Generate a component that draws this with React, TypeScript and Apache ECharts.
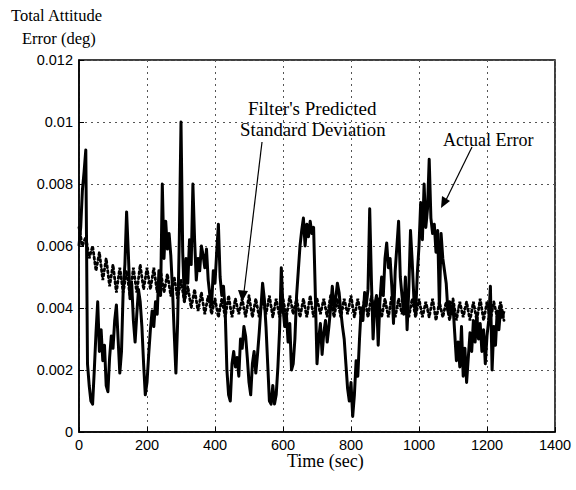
import React, { useEffect, useRef } from "react";
import * as echarts from "echarts";

const errTime: number[] = [
  0, 5, 10, 15, 20, 25, 30, 35, 40, 45, 50, 55, 60, 65, 70, 75, 80, 85, 90, 95,
  100, 105, 110, 115, 120, 125, 130, 135, 140, 145, 150, 155, 160, 165, 170, 175, 180, 185, 190, 195,
  200, 205, 210, 215, 220, 225, 230, 235, 240, 245, 250, 255, 260, 265, 270, 275, 280, 285, 290, 295,
  300, 305, 310, 315, 320, 325, 330, 335, 340, 345, 350, 355, 360, 365, 370, 375, 380, 385, 390, 395,
  400, 405, 410, 415, 420, 425, 430, 435, 440, 445, 450, 455, 460, 465, 470, 475, 480, 485, 490, 495,
  500, 505, 510, 515, 520, 525, 530, 535, 540, 545, 550, 555, 560, 565, 570, 575, 580, 585, 590, 595,
  600, 605, 610, 615, 620, 625, 630, 635, 640, 645, 650, 655, 660, 665, 670, 675, 680, 685, 690, 695,
  700, 705, 710, 715, 720, 725, 730, 735, 740, 745, 750, 755, 760, 765, 770, 775, 780, 785, 790, 795,
  800, 805, 810, 815, 820, 825, 830, 835, 840, 845, 850, 855, 860, 865, 870, 875, 880, 885, 890, 895,
  900, 905, 910, 915, 920, 925, 930, 935, 940, 945, 950, 955, 960, 965, 970, 975, 980, 985, 990, 995,
  1000, 1005, 1010, 1015, 1020, 1025, 1030, 1035, 1040, 1045, 1050, 1055, 1060, 1065, 1070, 1075, 1080, 1085, 1090, 1095,
  1100, 1105, 1110, 1115, 1120, 1125, 1130, 1135, 1140, 1145, 1150, 1155, 1160, 1165, 1170, 1175, 1180, 1185, 1190, 1195,
  1200, 1205, 1210, 1215, 1220, 1225, 1230, 1235, 1240, 1245, 1250,
];

const errValue: number[] = [
  0.0060, 0.0066, 0.0078, 0.0084, 0.0091, 0.0022, 0.0015, 0.0010, 0.0009, 0.0020,
  0.0032, 0.0042, 0.0026, 0.0033, 0.0023, 0.0028, 0.0015, 0.0013, 0.0024, 0.0031,
  0.0027, 0.0036, 0.0041, 0.0030, 0.0019, 0.0026, 0.0046, 0.0054, 0.0071, 0.0058,
  0.0043, 0.0048, 0.0036, 0.0029, 0.0038, 0.0046, 0.0042, 0.0034, 0.0022, 0.0012,
  0.0016, 0.0025, 0.0033, 0.0039, 0.0034, 0.0042, 0.0038, 0.0052, 0.0044, 0.0080,
  0.0056, 0.0068, 0.0059, 0.0064, 0.0057, 0.0046, 0.0032, 0.0019, 0.0035, 0.0062,
  0.0100, 0.0058, 0.0042, 0.0056, 0.0048, 0.0062, 0.0054, 0.0080, 0.0062, 0.0049,
  0.0056, 0.0052, 0.0060, 0.0057, 0.0053, 0.0059, 0.0049, 0.0044, 0.0041, 0.0052,
  0.0048, 0.0058, 0.0067, 0.0050, 0.0044, 0.0047, 0.0039, 0.0020, 0.0012, 0.0010,
  0.0022, 0.0026, 0.0021, 0.0024, 0.0018, 0.0030, 0.0027, 0.0034, 0.0031, 0.0024,
  0.0016, 0.0012, 0.0022, 0.0026, 0.0019, 0.0025, 0.0032, 0.0040, 0.0048, 0.0043,
  0.0034, 0.0022, 0.0010, 0.0009, 0.0015, 0.0009, 0.0012, 0.0021, 0.0033, 0.0053,
  0.0040, 0.0034, 0.0038, 0.0029, 0.0035, 0.0020, 0.0022, 0.0030, 0.0044, 0.0052,
  0.0060, 0.0065, 0.0069, 0.0060, 0.0067, 0.0063, 0.0068, 0.0064, 0.0066, 0.0045,
  0.0022, 0.0030, 0.0035, 0.0025, 0.0032, 0.0036, 0.0029, 0.0034, 0.0040, 0.0047,
  0.0040, 0.0043, 0.0048, 0.0045, 0.0039, 0.0034, 0.0030, 0.0022, 0.0014, 0.0010,
  0.0016, 0.0005, 0.0012, 0.0023, 0.0018, 0.0030, 0.0040, 0.0036, 0.0045, 0.0041,
  0.0046, 0.0072, 0.0049, 0.0030, 0.0041, 0.0044, 0.0028, 0.0042, 0.0050, 0.0044,
  0.0056, 0.0061, 0.0053, 0.0056, 0.0047, 0.0035, 0.0052, 0.0060, 0.0068, 0.0050,
  0.0044, 0.0038, 0.0050, 0.0033, 0.0046, 0.0065, 0.0055, 0.0043, 0.0038, 0.0051,
  0.0060, 0.0074, 0.0062, 0.0080, 0.0066, 0.0072, 0.0088, 0.0069, 0.0064, 0.0067,
  0.0058, 0.0065, 0.0040, 0.0064, 0.0056, 0.0052, 0.0048, 0.0039, 0.0042, 0.0038,
  0.0041, 0.0032, 0.0023, 0.0029, 0.0021, 0.0034, 0.0018, 0.0027, 0.0016, 0.0024,
  0.0032, 0.0026, 0.0036, 0.0029, 0.0038, 0.0030, 0.0035, 0.0026, 0.0033, 0.0022,
  0.0031, 0.0036, 0.0047, 0.0020, 0.0034, 0.0028, 0.0039, 0.0033, 0.0040, 0.0037,
  0.0039,
];

const stdTime: number[] = [
  0, 10, 20, 30, 40, 50, 60, 70, 80, 90, 100, 110, 120, 130, 140, 150, 160, 170, 180, 190,
  200, 210, 220, 230, 240, 250, 260, 270, 280, 290, 300, 310, 320, 330, 340, 350, 360, 370, 380, 390,
  400, 410, 420, 430, 440, 450, 460, 470, 480, 490, 500, 510, 520, 530, 540, 550, 560, 570, 580, 590,
  600, 610, 620, 630, 640, 650, 660, 670, 680, 690, 700, 710, 720, 730, 740, 750, 760, 770, 780, 790,
  800, 810, 820, 830, 840, 850, 860, 870, 880, 890, 900, 910, 920, 930, 940, 950, 960, 970, 980, 990,
  1000, 1010, 1020, 1030, 1040, 1050, 1060, 1070, 1080, 1090, 1100, 1110, 1120, 1130, 1140, 1150, 1160, 1170, 1180, 1190,
  1200, 1210, 1220, 1230, 1240, 1250,
];

const stdValue: number[] = [
  0.0066, 0.0060, 0.0063, 0.0056, 0.0060, 0.0052, 0.0058, 0.0049, 0.0056, 0.0047,
  0.0054, 0.0045, 0.0053, 0.0045, 0.0052, 0.0044, 0.0053, 0.0045, 0.0054, 0.0046,
  0.0053, 0.0046, 0.0053, 0.0045, 0.0052, 0.0045, 0.0051, 0.0044, 0.0050, 0.0043,
  0.0049, 0.0042, 0.0047, 0.0040, 0.0046, 0.0039, 0.0045, 0.0038, 0.0044, 0.0038,
  0.0043, 0.0037, 0.0043, 0.0037, 0.0044, 0.0037, 0.0043, 0.0038, 0.0043, 0.0037,
  0.0044, 0.0037, 0.0043, 0.0037, 0.0043, 0.0038, 0.0044, 0.0037, 0.0043, 0.0037,
  0.0043, 0.0037, 0.0044, 0.0038, 0.0043, 0.0037, 0.0043, 0.0037, 0.0044, 0.0037,
  0.0043, 0.0038, 0.0043, 0.0037, 0.0044, 0.0037, 0.0043, 0.0037, 0.0043, 0.0038,
  0.0044, 0.0037, 0.0043, 0.0037, 0.0043, 0.0037, 0.0044, 0.0038, 0.0043, 0.0037,
  0.0043, 0.0037, 0.0044, 0.0037, 0.0043, 0.0038, 0.0043, 0.0037, 0.0043, 0.0037,
  0.0043, 0.0037, 0.0042, 0.0037, 0.0043, 0.0036, 0.0042, 0.0037, 0.0042, 0.0036,
  0.0043, 0.0036, 0.0042, 0.0037, 0.0042, 0.0036, 0.0042, 0.0036, 0.0043, 0.0036,
  0.0042, 0.0036, 0.0042, 0.0037, 0.0042, 0.0036,
];

const xTicks = { min: 0, max: 1400, interval: 200 };
const yTicks = { min: 0, max: 0.012, interval: 0.002 };

const serif = "'Liberation Serif', 'Times New Roman', serif";
const sans = "'Liberation Sans', Arial, sans-serif";

export default function App() {
  const ref = useRef<HTMLDivElement>(null);
  useEffect(() => {
    if (!ref.current) return;
    const chart = echarts.init(ref.current, undefined, { renderer: "svg" });
    const gridLine = { show: true, lineStyle: { color: "#555", type: [2, 4] as any, width: 1 } };
    chart.setOption({
      animation: false,
      backgroundColor: "#fff",
      grid: { left: 79, right: 21, top: 60, bottom: 58, show: true, borderColor: "#000", borderWidth: 1.5, backgroundColor: "transparent" },
      xAxis: {
        type: "value",
        min: xTicks.min,
        max: xTicks.max,
        interval: xTicks.interval,
        axisLine: { show: true, lineStyle: { color: "#000", width: 1.5 } },
        axisTick: { show: true, inside: true, length: 5, lineStyle: { color: "#000" } },
        axisLabel: { color: "#000", fontFamily: sans, fontSize: 14.5, margin: 5, formatter: (v: number) => String(v) },
        splitLine: gridLine,
      },
      yAxis: {
        type: "value",
        min: yTicks.min,
        max: yTicks.max,
        interval: yTicks.interval,
        axisLine: { show: true, lineStyle: { color: "#000", width: 1.5 } },
        axisTick: { show: true, inside: true, length: 5, lineStyle: { color: "#000" } },
        axisLabel: {
          color: "#000",
          fontFamily: sans,
          fontSize: 14.5,
          margin: 6,
          formatter: (v: number) => String(parseFloat(v.toFixed(4))),
        },
        splitLine: gridLine,
      },
      series: [
        {
          name: "Actual Error",
          type: "line",
          data: errTime.map((t, i) => [t, errValue[i]]),
          showSymbol: false,
          symbol: "none",
          lineStyle: { color: "#000", width: 3, join: "round" },
          z: 2,
        },
        {
          name: "Filter's Predicted Standard Deviation",
          type: "line",
          data: stdTime.map((t, i) => [t, stdValue[i]]),
          showSymbol: false,
          symbol: "none",
          lineStyle: { color: "#000", width: 2.8, type: [2, 3] as any, cap: "round" },
          z: 3,
        },
      ],
      graphic: [
        { type: "text", left: 11, top: 7, style: { text: "Total Attitude", font: `16.5px ${serif}`, fill: "#000" } },
        { type: "text", left: 22, top: 30, style: { text: "Error (deg)", font: `16.5px ${serif}`, fill: "#000" } },
        { type: "text", left: 287, top: 452, style: { text: "Time (sec)", font: `18px ${serif}`, fill: "#000" } },
        { type: "text", left: 248, top: 99, style: { text: "Filter's Predicted", font: `19px ${serif}`, fill: "#000" } },
        { type: "text", left: 240, top: 120, style: { text: "Standard Deviation", font: `18.8px ${serif}`, fill: "#000" } },
        { type: "text", left: 443, top: 131, style: { text: "Actual Error", font: `18px ${serif}`, fill: "#000" } },
        { type: "line", shape: { x1: 262, y1: 142, x2: 244, y2: 292 }, style: { stroke: "#000", lineWidth: 1.2 }, z: 10 },
        { type: "polygon", shape: { points: [[242, 302], [238, 290], [248, 291]] }, style: { fill: "#000" }, z: 10 },
        { type: "line", shape: { x1: 472, y1: 147, x2: 446, y2: 200 }, style: { stroke: "#000", lineWidth: 1.2 }, z: 10 },
        { type: "polygon", shape: { points: [[441, 208], [442, 196], [450, 201]] }, style: { fill: "#000" }, z: 10 },
      ],
    });
    return () => chart.dispose();
  }, []);
  return <div ref={ref} style={{ position: "absolute", left: 0, top: 0, width: 576, height: 490 }} />;
}
